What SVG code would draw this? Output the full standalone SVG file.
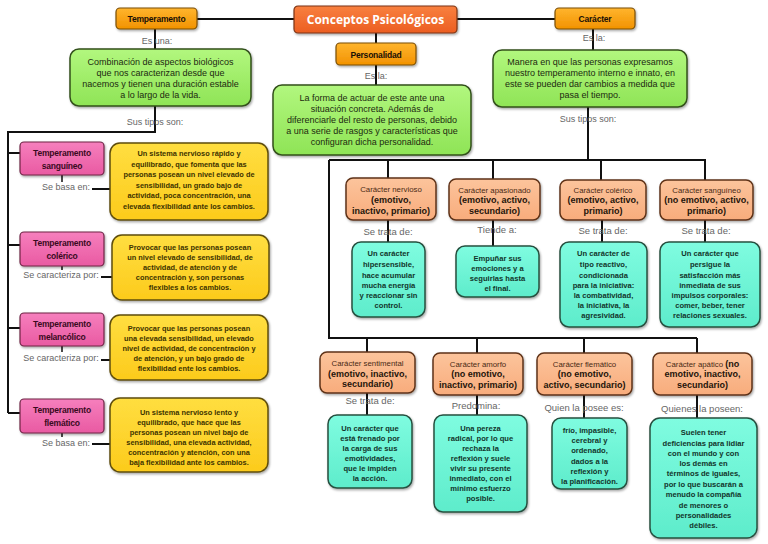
<svg xmlns="http://www.w3.org/2000/svg" width="768" height="544" viewBox="0 0 768 544">
<defs>
<filter id="sh" x="-10%" y="-10%" width="130%" height="130%"><feDropShadow dx="1" dy="1.5" stdDeviation="1" flood-color="#000" flood-opacity="0.35"/></filter>
<linearGradient id="gOr" x1="0" y1="0" x2="0" y2="1"><stop offset="0" stop-color="#ffb52e"/><stop offset="1" stop-color="#f29200"/></linearGradient>
<linearGradient id="gRed" x1="0" y1="0" x2="0" y2="1"><stop offset="0" stop-color="#f8803f"/><stop offset="1" stop-color="#ec5e22"/></linearGradient>
<linearGradient id="gGr" x1="0" y1="0" x2="0" y2="1"><stop offset="0" stop-color="#b2f77e"/><stop offset="1" stop-color="#8fe456"/></linearGradient>
<linearGradient id="gPk" x1="0" y1="0" x2="0" y2="1"><stop offset="0" stop-color="#f67fbd"/><stop offset="1" stop-color="#e95aa2"/></linearGradient>
<linearGradient id="gYe" x1="0" y1="0" x2="0" y2="1"><stop offset="0" stop-color="#ffde40"/><stop offset="1" stop-color="#fccb1c"/></linearGradient>
<linearGradient id="gPe" x1="0" y1="0" x2="0" y2="1"><stop offset="0" stop-color="#fcc49c"/><stop offset="1" stop-color="#f8ac7c"/></linearGradient>
<linearGradient id="gTe" x1="0" y1="0" x2="0" y2="1"><stop offset="0" stop-color="#7ffce0"/><stop offset="1" stop-color="#5eeccb"/></linearGradient>
</defs>
<style>
.or{fill:url(#gOr);stroke:#7a4e08;stroke-width:1.2;filter:url(#sh)}
.red{fill:url(#gRed);stroke:#7a3414;stroke-width:1.2;filter:url(#sh)}
.gr{fill:url(#gGr);stroke:#33501a;stroke-width:1.5;filter:url(#sh)}
.pk{fill:url(#gPk);stroke:#6e2444;stroke-width:1.2;filter:url(#sh)}
.ye{fill:url(#gYe);stroke:#5e4d0c;stroke-width:1.5;filter:url(#sh)}
.pe{fill:url(#gPe);stroke:#5e3218;stroke-width:1.5;filter:url(#sh)}
.te{fill:url(#gTe);stroke:#26503f;stroke-width:1.5;filter:url(#sh)}
text{font-family:"Liberation Sans",Arial,sans-serif;text-anchor:middle}
.t{font-size:8.5px;font-weight:bold;fill:#1a1005;letter-spacing:-0.2px}
.main{font-family:"Open Sans","Liberation Sans",sans-serif;font-size:12px;font-weight:bold;fill:#fff}
.g{font-size:9px;fill:#1c2a10}
.lb{font-size:9px;fill:#666}
.lb2{font-size:9.5px;fill:#666}
.pt{font-size:8.5px;font-weight:bold;fill:#3a0a1e;letter-spacing:-0.2px}
.y{font-size:7.4px;font-weight:bold;fill:#3d3300}
.ct{font-size:7.8px;fill:#4a2a14}
.cb{font-size:9px;font-weight:bold;fill:#24140a}
.tt{font-size:7.6px;font-weight:bold;fill:#12352b}
.c{fill:none;stroke:#111;stroke-width:2}
</style>
<rect width="768" height="544" fill="#fff"/>
<g id="connectors">
<path class="c" d="M197 19H294M457 19H555M376 33V43M155 29V50M376 65V85M593 29V50"/>
<path class="c" d="M155 106V132H8V413M8 153H20M8 245H20M8 328H20M8 413H20"/>
<path class="c" style="stroke-width:1.5" d="M62 175V182M62 266V270M62 346V352M62 433V437"/>
<path class="c" d="M92 189H110M101 277H112M101 360H110M92 444H110"/>
<path class="c" d="M588 107V160M329 160H706M388 160V178M493 160V179M601 160V180M705 160V180M329 160V338H697M367 338V352M477 338V353M584 338V353M697 338V353"/>
<path class="c" d="M388 220V242M493 220V246M602 220V242M705 220V242M367 393V415M477 395V415M584 395V418M697 395V418"/>
</g>
<g id="conceptos"><rect class="red" x="294" y="6" width="163" height="27" rx="4"/><text class="main" x="375.5" y="24">Conceptos Psicológicos</text></g>
<g id="temperamento"><rect class="or" x="116" y="8" width="81" height="21" rx="4"/><text class="t" x="156.5" y="22">Temperamento</text></g>
<g id="caracter"><rect class="or" x="555" y="8" width="80" height="21" rx="4"/><text class="t" x="595" y="22">Carácter</text></g>
<g id="personalidad"><rect class="or" x="336" y="43" width="80" height="22" rx="4"/><text class="t" x="376" y="58">Personalidad</text></g>
<g id="labels-top">
<text class="lb" x="157" y="44">Es una:</text>
<text class="lb" x="376" y="79">Es la:</text>
<text class="lb" x="594" y="41">Es la:</text>
<text class="lb" x="588" y="122">Sus tipos son:</text>
<text class="lb" x="155" y="125">Sus tipos son:</text>
</g>
<g id="def-temperamento"><rect class="gr" x="70" y="49" width="181" height="57" rx="9"/>
<text class="g"><tspan x="160.5" y="65">Combinación de aspectos biológicos</tspan><tspan x="160.5" y="76">que nos caracterizan desde que</tspan><tspan x="160.5" y="86.5">nacemos y tienen una duración estable</tspan><tspan x="160.5" y="97.5">a lo largo de la vida.</tspan></text></g>
<g id="def-personalidad"><rect class="gr" x="273" y="85" width="198" height="70" rx="9"/>
<text class="g"><tspan x="372" y="101">La forma de actuar de este ante una</tspan><tspan x="372" y="112">situación concreta. Además de</tspan><tspan x="372" y="123">diferenciarle del resto de personas, debido</tspan><tspan x="372" y="134">a una serie de rasgos y características que</tspan><tspan x="372" y="145">configuran dicha personalidad.</tspan></text></g>
<g id="def-caracter"><rect class="gr" x="493" y="50" width="194" height="57" rx="9"/>
<text class="g"><tspan x="590" y="65">Manera en que las personas expresamos</tspan><tspan x="590" y="76">nuestro temperamento interno e innato, en</tspan><tspan x="590" y="87">este se pueden dar cambios a medida que</tspan><tspan x="590" y="98">pasa el tiempo.</tspan></text></g>

<g id="t-sanguineo"><rect class="pk" x="20" y="142" width="84" height="33" rx="4"/><text class="pt"><tspan x="62" y="156">Temperamento</tspan><tspan x="62" y="169">sanguíneo</tspan></text><text class="lb" x="66" y="190">Se basa en:</text></g>
<g id="t-colerico"><rect class="pk" x="20" y="232" width="84" height="34" rx="4"/><text class="pt"><tspan x="62" y="246">Temperamento</tspan><tspan x="62" y="259">colérico</tspan></text><text class="lb" x="61" y="278">Se caracteriza por:</text></g>
<g id="t-melancolico"><rect class="pk" x="20" y="313" width="84" height="33" rx="4"/><text class="pt"><tspan x="62" y="327">Temperamento</tspan><tspan x="62" y="340">melancólico</tspan></text><text class="lb" x="61" y="361">Se caracteriza por:</text></g>
<g id="t-flematico"><rect class="pk" x="20" y="399" width="84" height="34" rx="4"/><text class="pt"><tspan x="62" y="413">Temperamento</tspan><tspan x="62" y="426">flemático</tspan></text><text class="lb" x="66" y="446">Se basa en:</text></g>

<g id="y-sanguineo"><rect class="ye" x="110" y="143" width="158" height="77" rx="10"/>
<text class="y"><tspan x="189" y="156">Un sistema nervioso rápido y</tspan><tspan x="189" y="166.5">equilibrado, que fomenta que las</tspan><tspan x="189" y="177">personas posean un nivel elevado de</tspan><tspan x="189" y="187.5">sensibilidad, un grado bajo de</tspan><tspan x="189" y="198">actividad, poca concentración, una</tspan><tspan x="189" y="208.5">elevada flexibilidad ante los cambios.</tspan></text></g>
<g id="y-colerico"><rect class="ye" x="112" y="235" width="157" height="65" rx="10"/>
<text class="y"><tspan x="190" y="249.5">Provocar que las personas posean</tspan><tspan x="190" y="259.5">un nivel elevado de sensibilidad, de</tspan><tspan x="190" y="269.5">actividad, de atención y de</tspan><tspan x="190" y="279.5">concentración y, son personas</tspan><tspan x="190" y="289.5">flexibles a los cambios.</tspan></text></g>
<g id="y-melancolico"><rect class="ye" x="110" y="315" width="158" height="65" rx="10"/>
<text class="y"><tspan x="189" y="330.5">Provocar que las personas posean</tspan><tspan x="189" y="340.5">una elevada sensibilidad, un elevado</tspan><tspan x="189" y="350.5">nivel de actividad, de concentración y</tspan><tspan x="189" y="360.5">de atención, y un bajo grado de</tspan><tspan x="189" y="370.5">flexibilidad ente los cambios.</tspan></text></g>
<g id="y-flematico"><rect class="ye" x="110" y="398" width="158" height="74" rx="10"/>
<text class="y"><tspan x="189" y="414.5">Un sistema nervioso lento y</tspan><tspan x="189" y="424.5">equilibrado, que hace que las</tspan><tspan x="189" y="434.5">personas posean un nivel bajo de</tspan><tspan x="189" y="444.5">sensibilidad, una elevada actividad,</tspan><tspan x="189" y="454.5">concentración y atención, con una</tspan><tspan x="189" y="464.5">baja flexibilidad ante los cambios.</tspan></text></g>

<g id="c-nervioso"><rect class="pe" x="346" y="178" width="90" height="42" rx="7"/>
<text x="391" y="191.5" class="ct">Carácter nervioso</text><text class="cb"><tspan x="391" y="203">(emotivo,</tspan><tspan x="391" y="213.5">inactivo, primario)</tspan></text>
<text class="lb2" x="388" y="234.5">Se trata de:</text>
<rect class="te" x="352" y="242" width="73" height="75" rx="9"/>
<text class="tt"><tspan x="388.5" y="255.5">Un carácter</tspan><tspan x="388.5" y="267">hipersensible,</tspan><tspan x="388.5" y="277.5">hace acumular</tspan><tspan x="388.5" y="287.5">mucha energía</tspan><tspan x="388.5" y="297.5">y reaccionar sin</tspan><tspan x="388.5" y="307.5">control.</tspan></text></g>
<g id="c-apasionado"><rect class="pe" x="449" y="179" width="91" height="41" rx="7"/>
<text x="494.5" y="192.5" class="ct">Carácter apasionado</text><text class="cb"><tspan x="494.5" y="203">(emotivo, activo,</tspan><tspan x="494.5" y="213.5">secundario)</tspan></text>
<text class="lb2" x="497" y="233">Tiende a:</text>
<rect class="te" x="456" y="246" width="83" height="51" rx="9"/>
<text class="tt"><tspan x="497.5" y="260.5">Empuñar sus</tspan><tspan x="497.5" y="270.5">emociones y a</tspan><tspan x="497.5" y="280.5">seguirlas hasta</tspan><tspan x="497.5" y="290.5">el final.</tspan></text></g>
<g id="c-colerico"><rect class="pe" x="560" y="180" width="86" height="40" rx="7"/>
<text x="603" y="192.5" class="ct">Carácter colérico</text><text class="cb"><tspan x="603" y="203">(emotivo, activo,</tspan><tspan x="603" y="213.5">primario)</tspan></text>
<text class="lb2" x="603" y="234">Se trata de:</text>
<rect class="te" x="560" y="242" width="87" height="85" rx="9"/>
<text class="tt"><tspan x="603.5" y="255.5">Un carácter de</tspan><tspan x="603.5" y="267">tipo reactivo,</tspan><tspan x="603.5" y="277.5">condicionada</tspan><tspan x="603.5" y="287.5">para la iniciativa:</tspan><tspan x="603.5" y="297.5">la combatividad,</tspan><tspan x="603.5" y="307.5">la iniciativa, la</tspan><tspan x="603.5" y="317.5">agresividad.</tspan></text></g>
<g id="c-sanguineo"><rect class="pe" x="660" y="180" width="93" height="40" rx="7"/>
<text x="706.5" y="192.5" class="ct">Carácter sanguíneo</text><text class="cb"><tspan x="706.5" y="203">(no emotivo, activo,</tspan><tspan x="706.5" y="213.5">primario)</tspan></text>
<text class="lb2" x="706" y="234">Se trata de:</text>
<rect class="te" x="660" y="242" width="100" height="85" rx="9"/>
<text class="tt"><tspan x="710" y="255.5">Un carácter que</tspan><tspan x="710" y="267">persigue la</tspan><tspan x="710" y="277.5">satisfacción más</tspan><tspan x="710" y="287.5">inmediata de sus</tspan><tspan x="710" y="297.5">impulsos corporales:</tspan><tspan x="710" y="307.5">comer, beber, tener</tspan><tspan x="710" y="317.5">relaciones sexuales.</tspan></text></g>

<g id="c-sentimental"><rect class="pe" x="320" y="352" width="95" height="41" rx="7"/>
<text x="367.5" y="365.5" class="ct">Carácter sentimental</text><text class="cb"><tspan x="367.5" y="376.5">(emotivo, inactivo,</tspan><tspan x="367.5" y="387">secundario)</tspan></text>
<text class="lb2" x="370" y="404">Se trata de:</text>
<rect class="te" x="328" y="415" width="84" height="73" rx="9"/>
<text class="tt"><tspan x="370" y="430.5">Un carácter que</tspan><tspan x="370" y="440.5">está frenado por</tspan><tspan x="370" y="450.5">la carga de sus</tspan><tspan x="370" y="460.5">emotividades,</tspan><tspan x="370" y="470.5">que le impiden</tspan><tspan x="370" y="480.5">la acción.</tspan></text></g>
<g id="c-amorfo"><rect class="pe" x="433" y="353" width="90" height="42" rx="7"/>
<text x="478" y="366.5" class="ct">Carácter amorfo</text><text class="cb"><tspan x="478" y="377">(no emotivo,</tspan><tspan x="478" y="387.5">inactivo, primario)</tspan></text>
<text class="lb2" x="476" y="409">Predomina:</text>
<rect class="te" x="434" y="415" width="93" height="97" rx="9"/>
<text class="tt"><tspan x="480.5" y="430.5">Una pereza</tspan><tspan x="480.5" y="440.5">radical, por lo que</tspan><tspan x="480.5" y="450.5">rechaza la</tspan><tspan x="480.5" y="460.5">reflexión y suele</tspan><tspan x="480.5" y="470.5">vivir su presente</tspan><tspan x="480.5" y="480.5">inmediato, con el</tspan><tspan x="480.5" y="490.5">mínimo esfuerzo</tspan><tspan x="480.5" y="501">posible.</tspan></text></g>
<g id="c-flematico"><rect class="pe" x="537" y="353" width="95" height="42" rx="7"/>
<text x="584.5" y="366.5" class="ct">Carácter flemático</text><text class="cb"><tspan x="584.5" y="377">(no emotivo,</tspan><tspan x="584.5" y="387.5">activo, secundario)</tspan></text>
<text class="lb2" x="584" y="410.5">Quien la posee es:</text>
<rect class="te" x="552" y="418" width="75" height="71" rx="9"/>
<text class="tt"><tspan x="589.5" y="432.5">frío, impasible,</tspan><tspan x="589.5" y="442.5">cerebral y</tspan><tspan x="589.5" y="452.5">ordenado,</tspan><tspan x="589.5" y="463.5">dados a la</tspan><tspan x="589.5" y="473.5">reflexión y</tspan><tspan x="589.5" y="484">la planificación.</tspan></text></g>
<g id="c-apatico"><rect class="pe" x="653" y="353" width="99" height="42" rx="7"/>
<text x="702.5" y="366.5"><tspan class="ct">Carácter apático </tspan><tspan class="cb">(no</tspan></text><text class="cb"><tspan x="702.5" y="377">emotivo, inactivo,</tspan><tspan x="702.5" y="387.5">secundario)</tspan></text>
<text class="lb2" x="702" y="411.5">Quienes la poseen:</text>
<rect class="te" x="650" y="418" width="107" height="120" rx="10"/>
<text class="tt"><tspan x="703.5" y="434.5">Suelen tener</tspan><tspan x="703.5" y="445.5">deficiencias para lidiar</tspan><tspan x="703.5" y="455.5">con el mundo y con</tspan><tspan x="703.5" y="465.5">los demás en</tspan><tspan x="703.5" y="475.5">términos de iguales,</tspan><tspan x="703.5" y="486.5">por lo que buscarán a</tspan><tspan x="703.5" y="496.5">menudo la compañía</tspan><tspan x="703.5" y="507.5">de menores o</tspan><tspan x="703.5" y="517.5">personalidades</tspan><tspan x="703.5" y="527.5">débiles.</tspan></text></g>
</svg>
